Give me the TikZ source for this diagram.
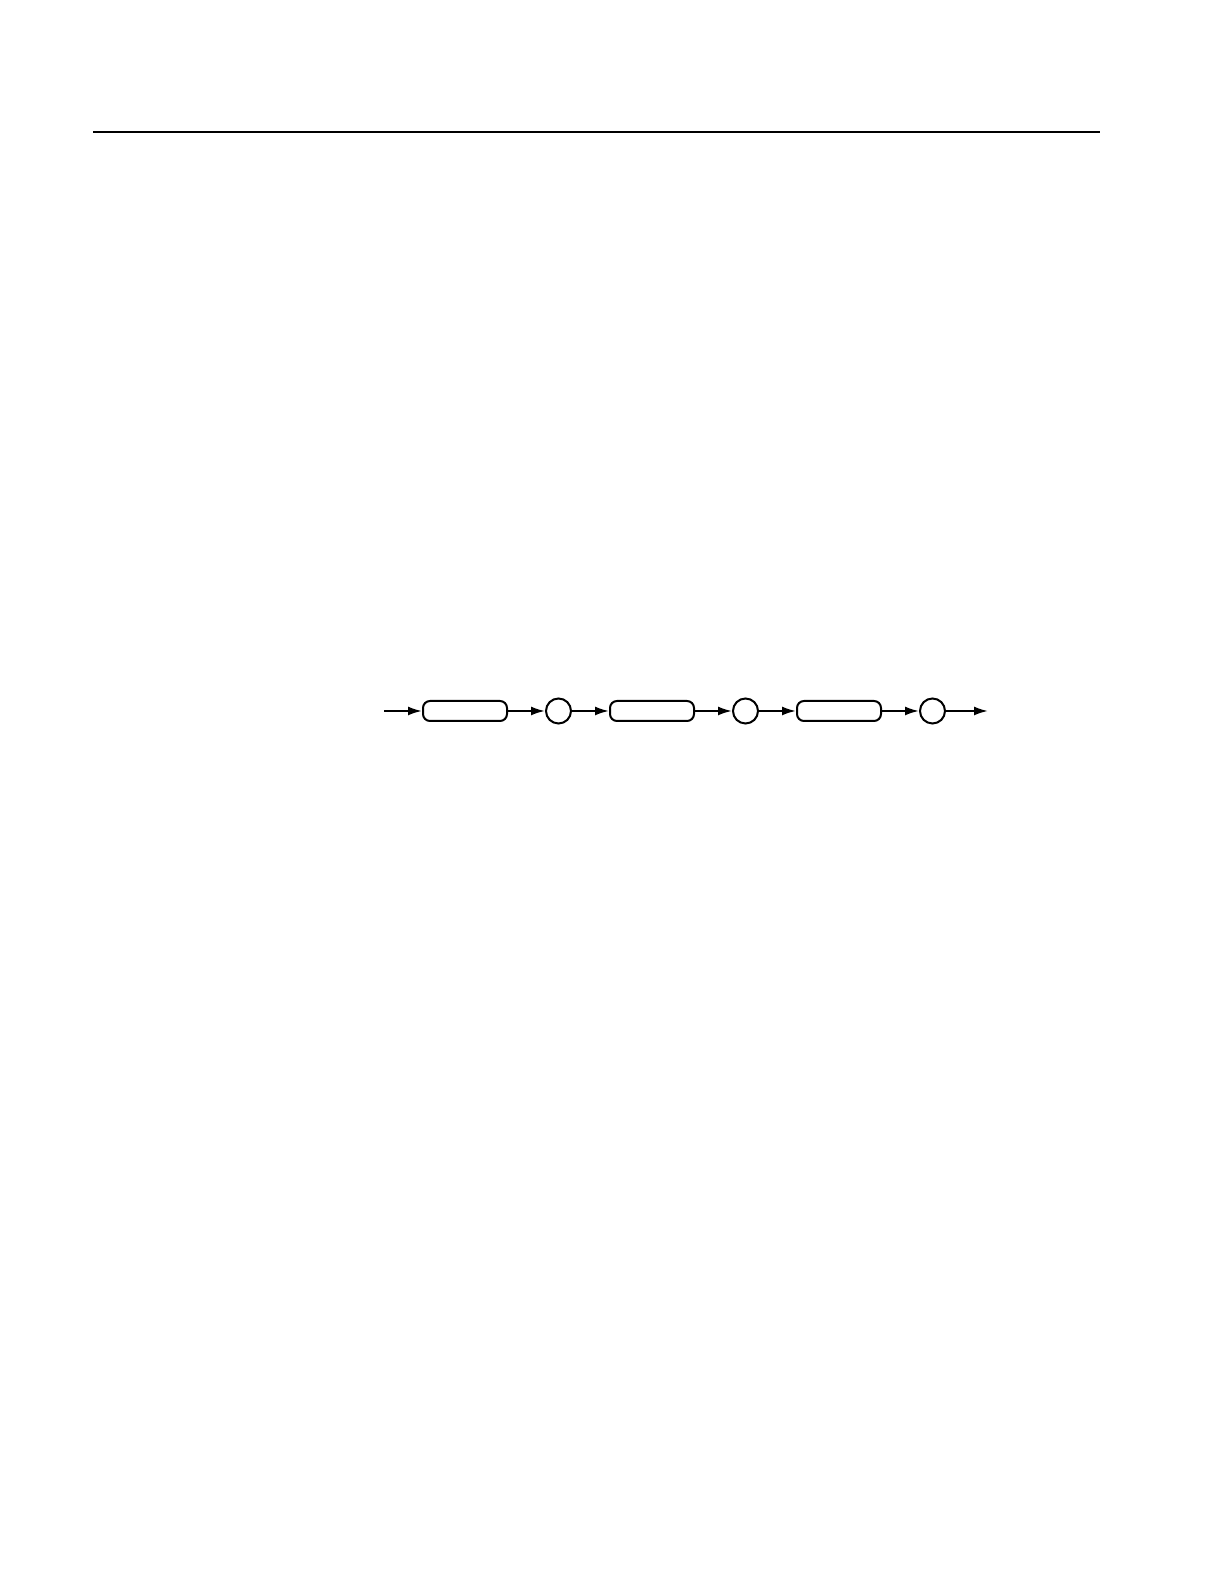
\documentclass[tikz,border=0pt]{standalone}
\usetikzlibrary{matrix, arrows.meta, positioning}

\begin{document}
\begin{tikzpicture}[x=1pt, y=1pt, line width=1pt, >={Latex[length=7pt,width=4.5pt]},
  elem/.style={draw, rounded corners=3.5pt, minimum width=42pt, minimum height=10pt, inner sep=0pt},
  sepr/.style={draw, circle, minimum size=12.5pt, inner sep=0pt}]
\useasboundingbox (0,0) rectangle (612,792);
\coordinate (r1) at (46.5,726);
\coordinate (r2) at (550,726);
\draw (r1) -- (r2);
\matrix (m) [matrix of nodes, column sep = 18.5pt, nodes={anchor=center}] at (342,436.5) {
\node[elem](b1){}; & \node[sepr](c1){}; & \node[elem](b2){}; & \node[sepr](c2){}; & \node[elem](b3){}; & \node[sepr](c3){}; \\
};
\coordinate[left=19pt of b1] (in);
\coordinate[right=21pt of c3] (out);
\draw [->] (in) -- (b1);
\draw [->] (b1) -- (c1);
\draw [->] (c1) -- (b2);
\draw [->] (b2) -- (c2);
\draw [->] (c2) -- (b3);
\draw [->] (b3) -- (c3);
\draw [->] (c3) -- (out);
\end{tikzpicture}
\end{document}
